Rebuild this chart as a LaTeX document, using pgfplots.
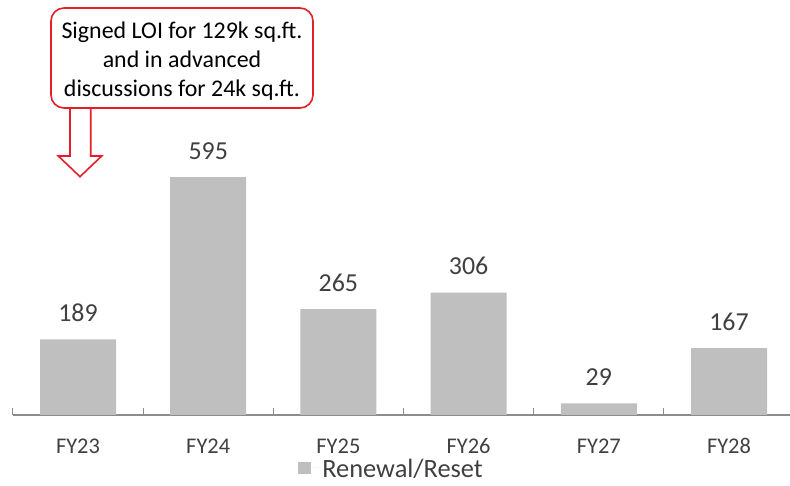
\documentclass[border=0pt]{standalone}
\usepackage{pgfplots}
\pgfplotsset{compat=1.18}
\usepackage{fontspec}
\setmainfont{Carlito}
\definecolor{barc}{HTML}{BFBFBF}
\definecolor{lbl}{HTML}{404040}
\definecolor{axc}{HTML}{8C8C8C}
\definecolor{callred}{RGB}{230,30,40}
\begin{document}
\begin{tikzpicture}
\path[use as bounding box] (0,0) rectangle (790bp,486bp);
\begin{axis}[
  at={(12.9bp,71bp)}, anchor=south west,
  x=130.2bp, y=0.4bp,
  xmin=-0.5, xmax=5.468, ymin=0, ymax=700,
  axis x line*=bottom, axis y line=none,
  x axis line style={-, draw=axc, line width=1.2bp},
  xtick={0,...,5},
  xticklabels={FY23,FY24,FY25,FY26,FY27,FY28},
  major tick length=0pt,
  ytick=\empty,
  clip=false,
  ybar, bar width=76bp, bar shift=0pt,
  nodes near coords,
  nodes near coords style={font=\fontsize{26}{31}\selectfont, text=lbl, anchor=south, inner sep=0pt, yshift=17.5bp},
  /pgf/number format/assume math mode=true,
  xticklabel style={font=\fontsize{22.5}{27}\selectfont, text=lbl, anchor=base, inner sep=0pt, yshift=-39bp},
  legend style={at={(0.367,-0.189)}, anchor=west, draw=none, fill=none, font=\fontsize{26.5}{31}\selectfont, text=lbl, inner sep=0pt, nodes={text depth=0pt}},
  legend image code/.code={\fill[barc] (0bp,-6.5bp) rectangle (13bp,5.5bp); \path (0bp,0bp) -- (22bp,0bp);},
]
\addplot[fill=barc, draw=none] coordinates {(0,189) (1,595) (2,265) (3,306) (4,29) (5,167)};
\addlegendentry{Renewal/Reset}
\pgfplotsinvokeforeach{-0.5,0.5,1.5,2.5,3.5,4.5}{
  \draw[axc, line width=1bp] (axis cs:#1,0) -- ++(0bp,7bp);
}
\end{axis}
\draw[callred, line width=1.6bp, fill=white] (70bp,378bp) -- (70bp,330bp) -- (58.3bp,330bp) -- (80bp,309.3bp) -- (101.7bp,330bp) -- (90.7bp,330bp) -- (90.7bp,378bp);
\draw[callred, line width=1.6bp, rounded corners=13bp, fill=white] (51bp,378bp) rectangle (313bp,478bp);
\node[font=\fontsize{24}{29}\selectfont, anchor=base, inner sep=0pt] at (182bp,447bp) {Signed LOI for 129k sq.ft.};
\node[font=\fontsize{24}{29}\selectfont, anchor=base, inner sep=0pt] at (182bp,418bp) {and in advanced};
\node[font=\fontsize{24}{29}\selectfont, anchor=base, inner sep=0pt] at (182bp,389bp) {discussions for 24k sq.ft.};
\end{tikzpicture}
\end{document}
